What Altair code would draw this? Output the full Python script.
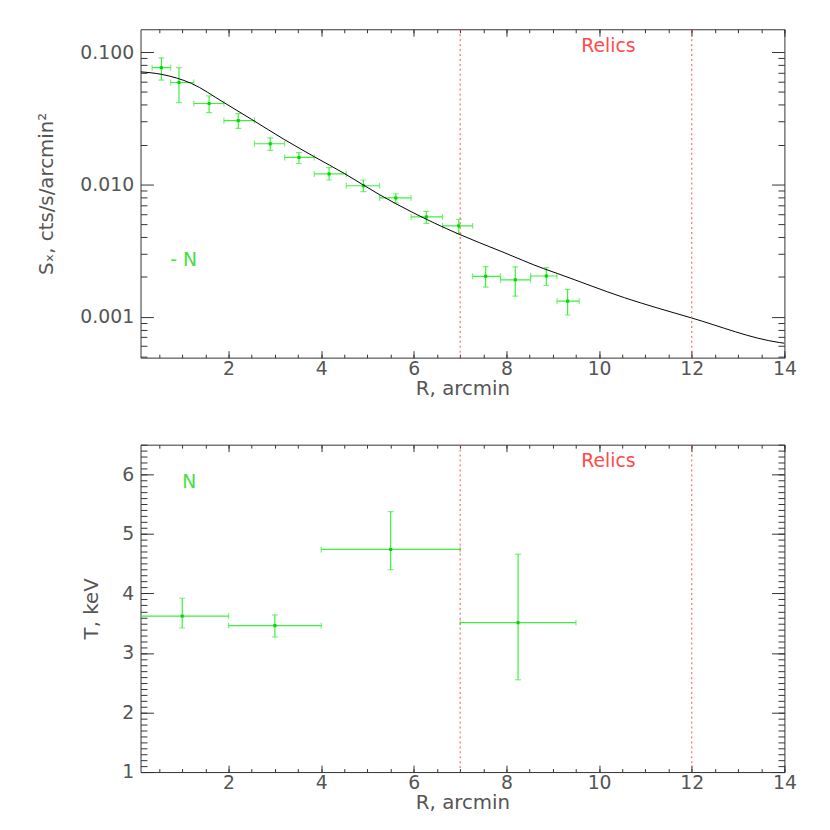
import altair as alt
import pandas as pd

# ---------------- data ----------------
# Surface brightness profile (top panel)
sx_r   = [0.55, 0.93, 1.58, 2.21, 2.90, 3.52, 4.17, 4.91, 5.61, 6.27, 6.97, 7.55, 8.19, 8.86, 9.32]
sx_rlo = [0.35, 0.75, 1.25, 1.90, 2.56, 3.21, 3.85, 4.54, 5.26, 5.94, 6.62, 7.27, 7.87, 8.52, 9.09]
sx_rhi = [0.75, 1.25, 1.90, 2.56, 3.21, 3.85, 4.54, 5.26, 5.94, 6.62, 7.27, 7.87, 8.52, 9.09, 9.57]
sx     = [0.0763, 0.0590, 0.0409, 0.0304, 0.0203, 0.0160, 0.0120, 0.00977, 0.00790, 0.00568, 0.00486, 0.00202, 0.00190, 0.00203, 0.00131]
sx_lo  = [0.0615, 0.0416, 0.0349, 0.0265, 0.0181, 0.0144, 0.0108, 0.00883, 0.00726, 0.00508, 0.00424, 0.00167, 0.00143, 0.00172, 0.00103]
sx_hi  = [0.0906, 0.0763, 0.0467, 0.0343, 0.0225, 0.0174, 0.0134, 0.0108, 0.00850, 0.00625, 0.00544, 0.00239, 0.00238, 0.00235, 0.00161]

# Model curve
model_r  = [0.1, 0.55, 1.2, 1.9, 2.5, 3.2, 3.85, 4.5, 5.25, 5.95, 6.95, 7.9, 8.8, 9.1, 10.55, 12.0, 13.9, 14.0]
model_sx = [0.071, 0.068, 0.058, 0.0416, 0.031, 0.0219, 0.0162, 0.0121, 0.0084, 0.0062, 0.00424, 0.0031, 0.00231, 0.00212, 0.00139, 0.000977, 0.000637, 0.00063]

# Temperature profile (bottom panel)
t_r   = [1.0, 3.0, 5.5, 8.25]
t_rlo = [0.0, 2.0, 4.0, 7.0]
t_rhi = [2.0, 4.0, 7.0, 9.5]
t_val = [3.62, 3.46, 4.74, 3.51]
t_lo  = [3.42, 3.27, 4.40, 2.55]
t_hi  = [3.92, 3.64, 5.375, 4.66]

# Relic region boundaries and annotations
relic_x = [7, 12]
relic_label = ["Relics"]
top_relic_pos = [10.2, 0.112]
bot_relic_pos = [10.2, 6.22]
top_n_text, top_n_pos = ["- N"], [1.03, 0.00266]
bot_n_text, bot_n_pos = ["N"], [1.15, 5.87]

# Tick values
x_major = [2, 4, 6, 8, 10, 12, 14]
x_minor = [round(0.5 * i, 1) for i in range(1, 29)]
sx_major = [0.001, 0.01, 0.1]
sx_minor = [m * 10.0 ** e for e in (-4, -3, -2) for m in range(2, 10)]
t_major = [1, 2, 3, 4, 5, 6]
t_minor = [round(1 + 0.1 * i, 1) for i in range(0, 56)]

# ---------------- styling ----------------
W, H1, H2 = 651, 332, 331
XDOM = [0.1, 14]
FONT = "DejaVu Sans"
AXC = "#333333"
LABC = "#555555"
G = "#3cf03c"
GP = "#00d800"
RED = "#ff4a4a"
GT = "#44e044"


def ax(orient, values, size, labels=False, title=None, fmt=None, lpad=4, tpad=4):
    kw = dict(orient=orient, values=values, tickSize=size, offset=-size, domain=False,
              grid=False, labels=labels, ticks=True, tickColor=AXC, tickWidth=1,
              labelFont=FONT, labelFontSize=19, labelColor=LABC, labelPadding=lpad,
              labelFlush=False, labelOverlap=False,
              titleFont=FONT, titleFontSize=20, titleFontWeight="normal",
              titleColor=LABC, titlePadding=tpad, title=title)
    if fmt:
        kw["format"] = fmt
    return alt.Axis(**kw)


def panel(df, ys, ymaj, ymin, yfmt, ytitle, ytpad, model, relic_pos, n_text, n_pos, height):
    xs = alt.Scale(domain=XDOM, nice=False, zero=False)
    base = alt.Chart(df)
    yerr = base.mark_rule(color=G, strokeWidth=1.2, clip=True).encode(
        x=alt.X("r:Q", scale=xs, axis=ax("bottom", x_major, 7, True, "R, arcmin", "d", 2, 0)),
        y=alt.Y("lo:Q", scale=ys, axis=ax("left", ymaj, 13, True, ytitle, yfmt, 7, ytpad)),
        y2="hi:Q")
    xerr = base.mark_rule(color=G, strokeWidth=1.2, clip=True).encode(
        x=alt.X("rlo:Q", scale=xs, axis=ax("bottom", x_minor, 3.5)),
        x2="rhi:Q",
        y=alt.Y("v:Q", scale=ys, axis=ax("left", ymin, 6.5)))
    ycap_df = pd.DataFrame({"r": list(df["r"]) * 2, "y": list(df["lo"]) + list(df["hi"])})
    xcap_df = pd.DataFrame({"x": list(df["rlo"]) + list(df["rhi"]), "v": list(df["v"]) * 2})
    ycap = alt.Chart(ycap_df).mark_tick(orient="horizontal", size=6, thickness=1.2, color=G, clip=True).encode(
        x=alt.X("r:Q", scale=xs, axis=ax("top", x_major, 7)),
        y=alt.Y("y:Q", scale=ys, axis=ax("right", ymaj, 13)))
    xcap = alt.Chart(xcap_df).mark_tick(orient="vertical", size=6, thickness=1.2, color=G, clip=True).encode(
        x=alt.X("x:Q", scale=xs, axis=ax("top", x_minor, 3.5)),
        y=alt.Y("v:Q", scale=ys, axis=ax("right", ymin, 6.5)))
    pts = base.mark_square(size=10, color=GP, opacity=1).encode(
        x=alt.X("r:Q", scale=xs, axis=None), y=alt.Y("v:Q", scale=ys, axis=None))
    rules = alt.Chart(pd.DataFrame({"x": relic_x})).mark_rule(
        color=RED, strokeDash=[2, 3], strokeWidth=1).encode(x=alt.X("x:Q", scale=xs, axis=None))
    relic_t = alt.Chart(pd.DataFrame({"x": [relic_pos[0]], "y": [relic_pos[1]], "t": relic_label})).mark_text(
        font=FONT, fontSize=19, color=RED, baseline="middle").encode(
        x=alt.X("x:Q", scale=xs, axis=None), y=alt.Y("y:Q", scale=ys, axis=None), text="t:N")
    n_t = alt.Chart(pd.DataFrame({"x": [n_pos[0]], "y": [n_pos[1]], "t": n_text})).mark_text(
        font=FONT, fontSize=19, color=GT, baseline="middle").encode(
        x=alt.X("x:Q", scale=xs, axis=None), y=alt.Y("y:Q", scale=ys, axis=None), text="t:N")
    layers = [yerr, xerr, ycap, xcap, pts]
    if model is not None:
        curve = alt.Chart(model).mark_line(color="black", strokeWidth=1, interpolate="monotone", clip=True).encode(
            x=alt.X("r:Q", scale=xs, axis=None), y=alt.Y("s:Q", scale=ys, axis=None))
        layers.append(curve)
    layers += [rules, relic_t, n_t]
    return alt.layer(*layers).resolve_axis(x="independent", y="independent").properties(width=W, height=height)


sx_df = pd.DataFrame({"r": sx_r, "rlo": sx_rlo, "rhi": sx_rhi, "v": sx, "lo": sx_lo, "hi": sx_hi})
t_df = pd.DataFrame({"r": t_r, "rlo": t_rlo, "rhi": t_rhi, "v": t_val, "lo": t_lo, "hi": t_hi})
model_df = pd.DataFrame({"r": model_r, "s": model_sx})

top = panel(sx_df, alt.Scale(type="log", domain=[0.00049, 0.149], nice=False),
            sx_major, sx_minor, ".3f", "Sₓ, cts/s/arcmin²", 24,
            model_df, top_relic_pos, top_n_text, top_n_pos, H1)
bottom = panel(t_df, alt.Scale(domain=[1, 6.5], nice=False, zero=False),
               t_major, t_minor, "d", "T, keV", 20,
               None, bot_relic_pos, bot_n_text, bot_n_pos, H2)

chart = alt.vconcat(top, bottom, spacing=45).properties(
    padding={"left": 28, "top": 16, "right": 25, "bottom": 5},
    background="white",
).configure_view(stroke=AXC, strokeWidth=1)

chart.save("out.html", embed_options={"renderer": "svg", "actions": False})
